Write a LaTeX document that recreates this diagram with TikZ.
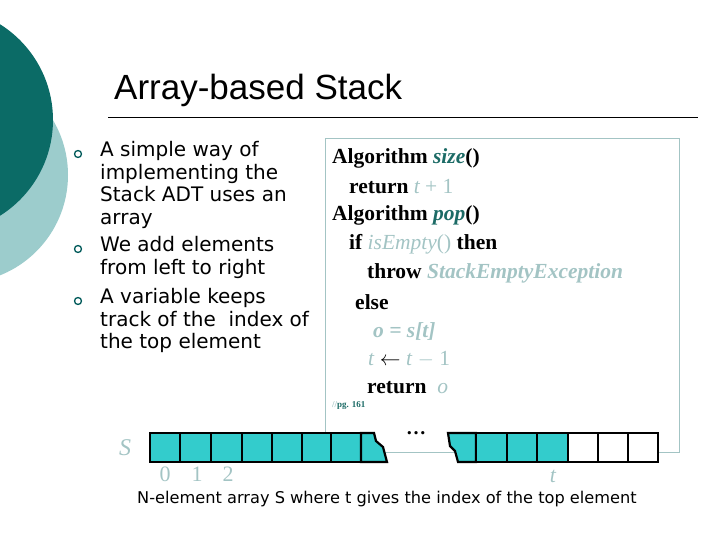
\documentclass[tikz,border=0pt]{standalone}
\usepackage{fontspec}
\setmainfont{Liberation Serif}
\setsansfont{DejaVu Sans}
\newfontfamily\titlefont{Liberation Sans}
\begin{document}
\begin{tikzpicture}[x=1pt,y={(0,-1pt)},
  bul/.style={draw=teal!70!black,line width=1.3pt,circle,inner sep=0pt,minimum size=7pt},
  btxt/.style={anchor=north west,font=\sffamily\fontsize{20}{22.8}\selectfont,align=left,inner sep=0pt},
  alg/.style={anchor=west,inner sep=0pt,font=\fontsize{21.5}{24}\selectfont\bfseries},
  cell/.style={draw,line width=2.2pt,fill=cellc},
  ecell/.style={draw,line width=2.2pt,fill=white},
  lbl/.style={text=lt,font=\fontsize{22}{24}\selectfont,inner sep=0pt}]
\definecolor{dk}{HTML}{0B6B66}
\definecolor{lc}{HTML}{9CCCCC}
\definecolor{lt}{HTML}{A3C4C4}
\definecolor{dt}{HTML}{1C6B66}
\definecolor{cellc}{HTML}{33CCCC}
\useasboundingbox (0,0) rectangle (720,540);
\fill[lc] (-40,175) circle (108);
\fill[dk] (-60,120) circle (113);
\node[anchor=west,font=\titlefont\fontsize{35}{38}\selectfont,inner sep=0pt] (title) at (114,90) {Array-based Stack};
\draw[line width=0.8pt] (108,117) -- (698,117);
\node[bul] (b1) at (78,154) {};
\node[bul] (b2) at (78,249) {};
\node[bul] (b3) at (78,301) {};
\node[btxt] (t1) at (100,141) {A simple way of\\implementing the\\Stack ADT uses an\\array};
\node[btxt] (t2) at (100,236) {We add elements\\from left to right};
\node[btxt] (t3) at (100,288) {A variable keeps\\track of the \ index of\\the top element};
\draw[lt,line width=0.8pt] (325,138) rectangle (679,452);
\node[alg] (a1) at (332,158) {Algorithm \textcolor{dt}{\itshape size}()};
\node[alg] (a2) at (349,187) {return \textcolor{lt}{\mdseries\itshape t} \textcolor{lt}{\mdseries + 1}};
\node[alg] (a3) at (332,215) {Algorithm \textcolor{dt}{\itshape pop}()};
\node[alg] (a4) at (349,244) {if \textcolor{lt}{\mdseries\itshape isEmpty}\textcolor{lt}{\mdseries ()} then};
\node[alg] (a5) at (367,273) {throw \textcolor{lt}{\itshape StackEmptyException}};
\node[alg] (a6) at (355,302) {else};
\node[alg,text=lt] (a7) at (373,331) {\itshape o = s[t]};
\node[alg,text=lt,font=\fontsize{21.5}{24}\selectfont] (a8) at (368,359) {\textit{t} \textcolor{black}{$\leftarrow$} \textit{t} $-$ 1};
\node[alg] (a9) at (367,388) {return \ \textcolor{lt}{\mdseries\itshape o}};
\node[anchor=west,inner sep=0pt,font=\fontsize{9}{10}\selectfont\bfseries,text=dt] (pg) at (332,406) {\textcolor{lt}{//}pg. 161};
% array
\foreach \a/\b in {150/180,180/211,211/242,242/272,272/302,302/331,331/361}
  \draw[cell] (\a,433) rectangle (\b,462);
\draw[cell] (361,433) -- (374,433) -- (376,441) -- (383,447) -- (387,462) -- (361,462) -- cycle;
\draw[cell] (448,433) -- (476,433) -- (476,462) -- (458,462) -- (455,451) -- (450,446) -- cycle;
\foreach \a/\b in {476/507,507/537,537/568}
  \draw[cell] (\a,433) rectangle (\b,462);
\foreach \a/\b in {568/598,598/628,628/658}
  \draw[ecell] (\a,433) rectangle (\b,462);
\node[font=\fontsize{20}{22}\selectfont\bfseries,inner sep=0pt] (dots) at (416,433) {\dots};
\node[lbl,font=\fontsize{24}{24}\selectfont\itshape] (S) at (125,448) {S};
\node[lbl] (i0) at (165,474) {0};
\node[lbl] (i1) at (197,474) {1};
\node[lbl] (i2) at (228,474) {2};
\node[lbl,font=\fontsize{22}{24}\selectfont\itshape] (it) at (553,476) {t};
\node[inner sep=0pt,font=\sffamily\fontsize{16.2}{18}\selectfont] (cap) at (387,499) {N-element array S where t gives the index of the top element};
\end{tikzpicture}
\end{document}
